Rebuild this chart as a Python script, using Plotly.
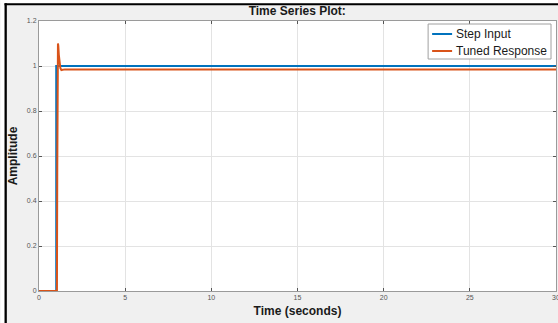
import plotly.graph_objects as go

# Step reference signal
step_t = [0, 1.0, 30]
step_y = [0, 1.0, 1.0]

# Closed-loop response of the tuned controller
resp_t = [0, 1.04, 1.06, 1.08, 1.10, 1.12, 1.15, 1.19, 1.24, 1.30, 1.38, 1.50, 30]
resp_y = [0, 0, 0.55, 0.98, 1.10, 1.09, 1.05, 1.01, 0.99, 0.982, 0.984, 0.985, 0.985]

series_names = ["Step Input", "Tuned Response"]

x_ticks = [0, 5, 10, 15, 20, 25, 30]
y_ticks = [0, 0.2, 0.4, 0.6, 0.8, 1, 1.2]
y_tick_text = ["0", "0.2", "0.4", "0.6", "0.8", "1", "1.2"]

BLUE = "#0072BD"
ORANGE = "#D95319"
FONT = "Liberation Sans, Arial, sans-serif"
TEXT = "#1a1a1a"

fig = go.Figure()
fig.add_trace(go.Scatter(x=step_t, y=step_y, mode="lines", name=series_names[0],
                         line=dict(color=BLUE, width=2, shape="hv")))
fig.add_trace(go.Scatter(x=resp_t, y=resp_y, mode="lines", name=series_names[1],
                         line=dict(color=ORANGE, width=2)))

axis_common = dict(
    showgrid=True, gridcolor="#e3e3e3", gridwidth=1,
    showline=True, linecolor="#9a9a9a", linewidth=1, mirror="ticks",
    ticks="inside", ticklen=3, tickcolor="#555555",
    tickfont=dict(family=FONT, size=7, color="#555555"),
    ticklabeloverflow="allow",
    zeroline=False, fixedrange=True,
)

fig.update_xaxes(range=[0, 30], tickvals=x_ticks,
                 title=dict(text="<b>Time (seconds)</b>", standoff=6,
                            font=dict(family=FONT, size=12, color=TEXT)),
                 **axis_common)
fig.update_yaxes(range=[0, 1.2], tickvals=y_ticks, ticktext=y_tick_text,
                 title=dict(text="<b>Amplitude</b>", standoff=6,
                            font=dict(family=FONT, size=12, color=TEXT)),
                 **axis_common)

L, R, T, B = 38.5, 2, 21, 32
W, H = 558, 323
pw, ph = W - L - R, H - T - B


def px_x(p):
    return (p - L) / pw


def px_y(p):
    return (H - B - p) / ph


shapes = [
    # white strips outside the frame
    dict(type="rect", xref="paper", yref="paper", x0=px_x(0), x1=px_x(W),
         y0=px_y(0), y1=px_y(3.3), fillcolor="white", line_width=0, layer="above"),
    dict(type="rect", xref="paper", yref="paper", x0=px_x(0), x1=px_x(4),
         y0=px_y(0), y1=px_y(H), fillcolor="white", line_width=0, layer="above"),
    # black frame edges
    dict(type="rect", xref="paper", yref="paper", x0=px_x(4), x1=px_x(W),
         y0=px_y(3.3), y1=px_y(5.3), fillcolor="black", line_width=0, layer="above"),
    dict(type="rect", xref="paper", yref="paper", x0=px_x(4), x1=px_x(6.3),
         y0=px_y(3.3), y1=px_y(H), fillcolor="black", line_width=0, layer="above"),
    # legend box
    dict(type="rect", xref="paper", yref="paper", x0=px_x(428), x1=px_x(551),
         y0=px_y(59), y1=px_y(24), fillcolor="white",
         line=dict(color="#a0a0a0", width=1), layer="above"),
]

annotations = []
legend_rows = [(34, BLUE, series_names[0]), (51, ORANGE, series_names[1])]
for row_y, color, label in legend_rows:
    shapes.append(dict(type="line", xref="paper", yref="paper",
                       x0=px_x(432), x1=px_x(452), y0=px_y(row_y), y1=px_y(row_y),
                       line=dict(color=color, width=2), layer="above"))
    annotations.append(dict(text=label, xref="paper", yref="paper",
                            x=px_x(453.5), y=px_y(row_y), xanchor="left",
                            yanchor="middle", showarrow=False,
                            font=dict(family=FONT, size=12, color=TEXT)))

fig.update_layout(
    width=W, height=H,
    margin=dict(l=L, r=R, t=T, b=B, autoexpand=False),
    paper_bgcolor="#f0f0f0", plot_bgcolor="white",
    font=dict(family=FONT),
    title=dict(text="<b>Time Series Plot:</b>", x=px_x(297), xref="paper",
               xanchor="center", y=1 - 10.5 / H, yanchor="middle",
               font=dict(family=FONT, size=12, color=TEXT)),
    shapes=shapes,
    annotations=annotations,
    showlegend=False,
)

fig.write_html("out.html", config={"displayModeBar": False})
